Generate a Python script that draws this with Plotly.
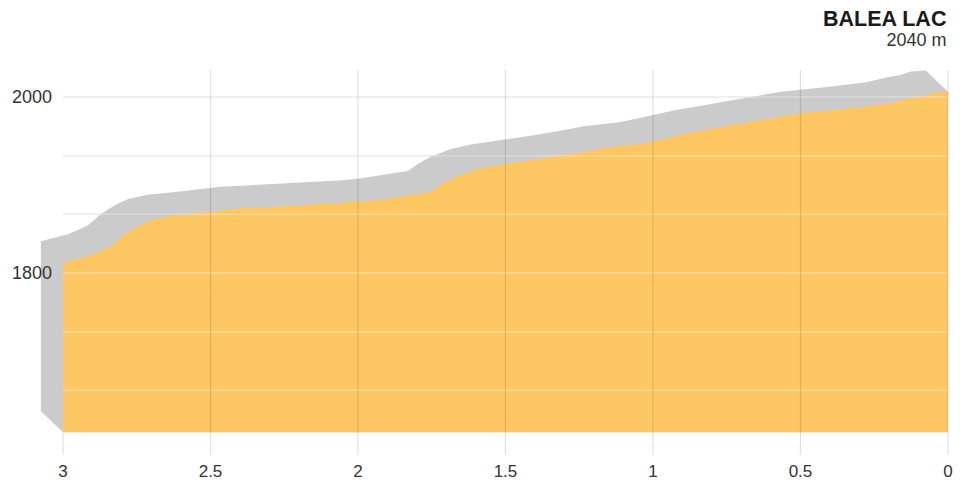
import plotly.graph_objects as go

# elevation profile (distance to summit in km, altitude in m)
dist_km = [3.000, 2.908, 2.841, 2.797, 2.749, 2.705, 2.637, 2.546, 2.390, 2.254,
           2.095, 1.993, 1.925, 1.858, 1.756, 1.722, 1.678, 1.610, 1.542, 1.485,
           1.407, 1.339, 1.248, 1.156, 1.044, 0.986, 0.851, 0.705, 0.593, 0.492,
           0.342, 0.197, 0.139, 0.085, 0.051, 0.000]
elev_m = [1812, 1820, 1830, 1843, 1853, 1860, 1865, 1868, 1874, 1876,
          1879, 1881, 1883, 1887, 1892, 1900, 1908, 1917, 1922, 1925,
          1929, 1932, 1937, 1943, 1947, 1951, 1961, 1970, 1976, 1982,
          1987, 1993, 1998, 2001, 2005, 2006]

x_ticks = [3, 2.5, 2, 1.5, 1, 0.5, 0]
x_ticktext = ["3", "2.5", "2", "1.5", "1", "0.5", "0"]
y_grid = [2000, 1933.3, 1866.7, 1800, 1733.3, 1666.7]
y_labels = [2000, 1800]

summit_name = "BALEA LAC"
summit_alt = "2040 m"

BASE = 1619          # bottom of the yellow block
DX, DY = 0.075, 24   # offset of the grey extrusion (km, m)
YELLOW = "#FDC863"
GREY = "#CBCBCB"
FONT = "Liberation Sans"

# grey extrusion polygon: right edge, shifted top, shifted left edge, back to base
gx = [dist_km[-1], dist_km[-1]] + [d + DX for d in reversed(dist_km)] + [dist_km[0] + DX, dist_km[0]]
gy = [BASE, elev_m[-1]] + [e + DY for e in reversed(elev_m)] + [BASE + DY, BASE]

yx = [dist_km[0]] + dist_km + [dist_km[-1]]
yy = [BASE] + elev_m + [BASE]

fig = go.Figure()
fig.add_trace(go.Scatter(x=gx, y=gy, fill="toself", fillcolor=GREY, mode="lines",
                         line=dict(width=0, color=GREY), hoverinfo="skip"))
fig.add_trace(go.Scatter(x=yx, y=yy, fill="toself", fillcolor=YELLOW, mode="lines",
                         line=dict(width=0, color=YELLOW), hoverinfo="skip"))

shapes = []
for v in y_grid:
    shapes.append(dict(type="line", xref="x", yref="y", x0=x_ticks[0], x1=x_ticks[-1], y0=v, y1=v,
                       line=dict(color="#e4e4e4", width=1.5), layer="below"))
    shapes.append(dict(type="line", xref="x", yref="y", x0=x_ticks[0], x1=x_ticks[-1], y0=v, y1=v,
                       line=dict(color="rgba(255,255,255,0.3)", width=1.5), layer="above"))
for t in x_ticks:
    if t == x_ticks[0]:
        shapes.append(dict(type="line", xref="x", yref="y", x0=t, x1=t, y0=1593, y1=BASE,
                           line=dict(color="rgba(0,0,0,0.12)", width=1.2), layer="above"))
    else:
        shapes.append(dict(type="line", xref="x", yref="paper", x0=t, x1=t, y0=0, y1=1,
                           line=dict(color="rgba(0,0,0,0.12)", width=1.2), layer="above"))

annotations = []
for v in y_labels:
    annotations.append(dict(x=x_ticks[0], y=v, xref="x", yref="y", text=str(v), showarrow=False,
                            xanchor="right", yanchor="middle", xshift=-9,
                            font=dict(family=FONT, size=18, color="#333")))
# summit name and altitude as one right-aligned block
annotations.append(dict(x=0, y=1, xref="x", yref="paper", showarrow=False,
                        text=("<b><span style='font-size:21.5px;color:#1a1a1a'>" + summit_name +
                              "</span></b><br><span style='font-size:18px'>" + summit_alt + "</span>"),
                        xanchor="right", yanchor="bottom", align="right", yshift=18,
                        font=dict(family=FONT, size=15, color="#333")))

# the page body has an 8px margin, so the figure is sized and padded for it
fig.update_layout(
    width=956, height=478,
    margin=dict(l=32, r=14, t=62, b=31, autoexpand=False),
    plot_bgcolor="white", paper_bgcolor="white",
    showlegend=False,
    shapes=shapes,
    annotations=annotations,
    xaxis=dict(range=[3.078, -0.007], tickvals=x_ticks, ticktext=x_ticktext,
               showgrid=False, zeroline=False, showline=False, automargin=False,
               ticks="outside", ticklen=1, tickcolor="rgba(0,0,0,0)",
               tickfont=dict(family=FONT, size=17, color="#333")),
    yaxis=dict(range=[1593.2, 2030.7], showgrid=False, zeroline=False, showline=False,
               showticklabels=False, automargin=False),
)

fig.write_html("out.html")
